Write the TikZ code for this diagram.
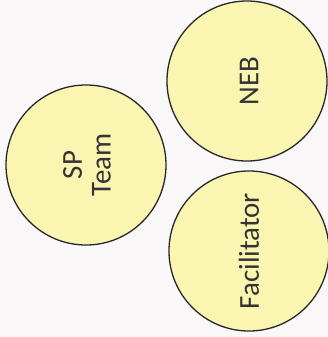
\documentclass[tikz,border=0pt]{standalone}
\usepackage{fontspec}
\setmainfont{Carlito}
\definecolor{bg}{RGB}{250,247,248}
\definecolor{circfill}{RGB}{250,245,176}
\definecolor{circline}{RGB}{40,40,40}
\begin{document}
\begin{tikzpicture}[x=1bp,y=-1bp,
  bubble/.style={circle,draw=circline,fill=circfill,line width=1.3bp,minimum size=160bp,inner sep=0pt},
  lbl/.style={rotate=90,font=\fontsize{29}{29}\selectfont,align=center,text=black!80}]
\fill[bg] (0,0) rectangle (328,337);
\useasboundingbox (0,0) rectangle (328,337);
\node[bubble] (neb) at (247,81) {};
\node[bubble] (sp) at (86,165) {};
\node[bubble] (fac) at (249,251) {};
\node[lbl] (nebt) at ([xshift=2bp]neb) {NEB};
\node[lbl] (spt) at ([xshift=1bp]sp) {SP\\Team};
\node[lbl] (fact) at (fac) {Facilitator};
\end{tikzpicture}
\end{document}
